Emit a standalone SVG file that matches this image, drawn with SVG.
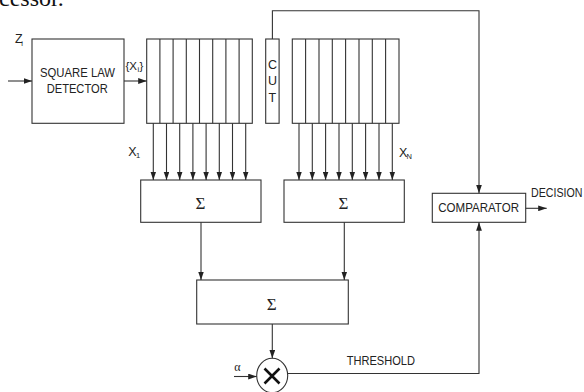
<svg xmlns="http://www.w3.org/2000/svg" width="584" height="392" viewBox="0 0 584 392">
<style>
.box{fill:#fff;stroke:#333;stroke-width:1.1}
.ln{fill:none;stroke:#333;stroke-width:1.1}
.arr{fill:none;stroke:#333;stroke-width:1.1;marker-end:url(#ah)}
.t{font-family:"Liberation Sans",Arial,sans-serif;font-size:13.5px;fill:#222}
.s{font-family:"Liberation Sans",Arial,sans-serif;font-size:7.5px;fill:#222}
.sig{font-family:"Liberation Serif","Times New Roman",serif;font-size:17px;fill:#222;text-anchor:middle}
</style>
<defs>
<marker id="ah" markerUnits="userSpaceOnUse" markerWidth="9" markerHeight="6" refX="8.5" refY="2.9" orient="auto">
<path d="M0,0 L8.5,2.9 L0,5.8 z" fill="#222"/>
</marker>
</defs>
<rect width="584" height="392" fill="#fff"/>
<text x="-1" y="6" style="font-family:'Liberation Serif','Times New Roman',serif;font-size:24px;fill:#111">cessor.</text>

<g id="detector">
<rect class="box" x="32" y="39" width="92" height="84.3"/>
<text class="t" x="40" y="76.7" textLength="75" lengthAdjust="spacingAndGlyphs">SQUARE LAW</text>
<text class="t" x="46.7" y="93.3" textLength="61" lengthAdjust="spacingAndGlyphs">DETECTOR</text>
</g>

<g id="register1">
<rect class="box" x="146.7" y="39" width="105.6" height="84.3"/>
<path class="ln" d="M159.9,39V123.3M173.1,39V123.3M186.3,39V123.3M199.5,39V123.3M212.7,39V123.3M225.9,39V123.3M239.1,39V123.3"/>
</g>

<g id="cut">
<rect class="box" x="265.7" y="39" width="13.4" height="84.3"/>
<text class="t" x="272.4" y="69" text-anchor="middle" style="font-size:12.5px">C</text>
<text class="t" x="272.4" y="85.3" text-anchor="middle" style="font-size:12.5px">U</text>
<text class="t" x="272.4" y="101.6" text-anchor="middle" style="font-size:12.5px">T</text>
</g>

<g id="register2">
<rect class="box" x="292.3" y="39" width="106.7" height="84.3"/>
<path class="ln" d="M305.6,39V123.3M319,39V123.3M332.3,39V123.3M345.6,39V123.3M359,39V123.3M372.3,39V123.3M385.6,39V123.3"/>
</g>

<g id="sum1">
<rect class="box" x="140.7" y="180" width="120.3" height="42.3"/>
<text class="sig" x="200.5" y="208.5">Σ</text>
</g>

<g id="sum2">
<rect class="box" x="284" y="180" width="120.3" height="42.3"/>
<text class="sig" x="343.5" y="208.5">Σ</text>
</g>

<g id="sum3">
<rect class="box" x="196.7" y="280" width="151.6" height="44"/>
<text class="sig" x="271.8" y="310">Σ</text>
</g>

<g id="multiplier">
<ellipse class="box" cx="272.2" cy="375.5" rx="15.5" ry="17.2"/>
<path d="M264.5,368.5L279.5,383.5M279.5,368.5L264.5,383.5" fill="none" stroke="#111" stroke-width="2.6"/>
</g>

<g id="comparator">
<rect class="box" x="432.3" y="193.3" width="93.4" height="29"/>
<text class="t" x="438.3" y="211.7" textLength="80.7" lengthAdjust="spacingAndGlyphs">COMPARATOR</text>
</g>

<g id="connectors">
<line class="arr" x1="8" y1="81" x2="32" y2="81"/>
<line class="arr" x1="124" y1="81" x2="146.7" y2="81"/>
<path class="arr" d="M153.3,123.3V180"/>
<path class="arr" d="M166.5,123.3V180"/>
<path class="arr" d="M179.7,123.3V180"/>
<path class="arr" d="M192.9,123.3V180"/>
<path class="arr" d="M206.1,123.3V180"/>
<path class="arr" d="M219.3,123.3V180"/>
<path class="arr" d="M232.5,123.3V180"/>
<path class="arr" d="M245.7,123.3V180"/>
<path class="arr" d="M299,123.3V180"/>
<path class="arr" d="M312.3,123.3V180"/>
<path class="arr" d="M325.6,123.3V180"/>
<path class="arr" d="M339,123.3V180"/>
<path class="arr" d="M352.3,123.3V180"/>
<path class="arr" d="M365.6,123.3V180"/>
<path class="arr" d="M379,123.3V180"/>
<path class="arr" d="M392.3,123.3V180"/>
<path class="arr" d="M272.4,39V10.7H479V193.3"/>
<path class="arr" d="M201,222.3V280"/>
<path class="arr" d="M344.3,222.3V280"/>
<path class="arr" d="M272.3,324V358.3"/>
<path class="arr" d="M234,376.5H256.7"/>
<path class="arr" d="M287.7,373.5H479V222.3"/>
<path class="arr" d="M525.7,208.3H546.7"/>
</g>

<g id="labels">
<text class="t" x="15" y="43.3" style="font-size:12.5px">Z<tspan class="s" x="21.3" y="45.5">i</tspan></text>
<text class="t" x="125.5" y="70" style="font-size:11.5px"><tspan>{X</tspan><tspan class="s" x="137.4" y="72">i</tspan><tspan x="139.6" y="70">}</tspan></text>
<text class="t" x="128.3" y="156" style="font-size:12.5px">X<tspan class="s" x="136" y="158">1</tspan></text>
<text class="t" x="399" y="156.7" style="font-size:12.5px">X<tspan class="s" x="406.5" y="158.7">N</tspan></text>
<text class="t" x="531" y="196.7" textLength="51.5" lengthAdjust="spacingAndGlyphs">DECISION</text>
<text class="t" x="346.7" y="365" textLength="68.3" lengthAdjust="spacingAndGlyphs" style="font-size:13px">THRESHOLD</text>
<text x="234.3" y="371" style="font-family:'Liberation Serif','Times New Roman',serif;font-size:12px;fill:#222">α</text>
</g>
</svg>
